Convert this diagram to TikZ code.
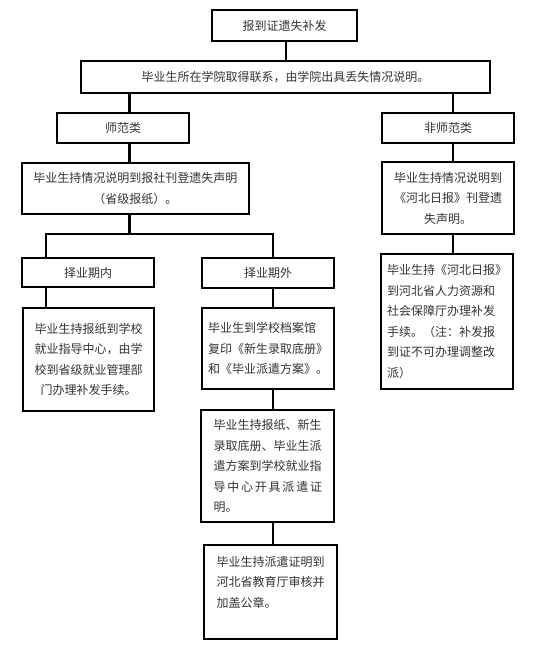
\documentclass[tikz,border=0pt]{standalone}
\usepackage{fontspec}
\setmainfont{Noto Sans CJK SC}
\definecolor{ink}{HTML}{333333}

\begin{document}
\begin{tikzpicture}[x=1pt, y=-1pt,
  every node/.style={font=\fontsize{12}{20.5}\selectfont, text=ink},
  box/.style={draw, line width=1.6pt, inner sep=0pt, align=center},
  leftbox/.style={box, align=left},
  link/.style={line width=2.8pt}]
  \useasboundingbox (0,0) rectangle (539,657);

  % Top
  \node[box, minimum width=145pt, minimum height=31pt] (lost) at (284.5,25.5) {报到证遗失补发};
  \node[box, minimum width=409pt, minimum height=32pt] (college) at (285.5,77)
    {毕业生所在学院取得联系，由学院出具丢失情况说明。};

  % Two kinds
  \node[box, minimum width=132pt, minimum height=30pt] (normal) at (123,128) {师范类};
  \node[box, minimum width=132pt, minimum height=30pt] (other) at (448,128) {非师范类};

  \node[box, minimum width=227pt, minimum height=51pt] (notice) at (135.5,188.5)
    {毕业生持情况说明到报社刊登遗失声明\\（省级报纸）。};
  \node[box, minimum width=132pt, minimum height=72pt] (hbnotice) at (448,198)
    {毕业生持情况说明到\\《河北日报》刊登遗\\失声明。};
  \node[leftbox, minimum width=132pt, minimum height=135pt] (hbdept) at (447,321.5)
    {毕业生持《河北日报》\\到河北省人力资源和\\社会保障厅办理补发\\手续。（注：补发报\\到证不可办理调整改\\派）};

  % Within / after the choice period
  \node[box, minimum width=132pt, minimum height=29pt] (inside) at (88,272.5) {择业期内};
  \node[box, minimum width=132pt, minimum height=30pt] (outside) at (268,273) {择业期外};

  \node[box, minimum width=131pt, minimum height=103pt] (reissue) at (88.5,359.5)
    {毕业生持报纸到学校\\就业指导中心，由学\\校到省级就业管理部\\门办理补发手续。};
  \node[leftbox, minimum width=132pt, minimum height=81pt] (archive) at (268,348.5)
    {毕业生到学校档案馆\\复印《新生录取底册》\\和《毕业派遣方案》。};
  \node[leftbox, minimum width=133pt, minimum height=112pt] (dispatch) at (267.5,466)
    {毕业生持报纸、新生\\录取底册、毕业生派\\遣方案到学校就业指\\\makebox[108pt][s]{导 中 心 开 具 派 遣 证}\\明。};
  \node[leftbox, minimum width=133pt, minimum height=94pt] (stamp) at (270.5,592)
    {毕业生持派遣证明到\\河北省教育厅审核并\\加盖公章。\\~};

  % Lanes
  \coordinate (laneA) at (286,0);
  \coordinate (laneL) at (129.5,0);
  \coordinate (laneR) at (453,0);
  \coordinate (laneIn) at (46,0);
  \coordinate (laneOut) at (273,0);
  \coordinate (bus) at (0,234);

  \draw[link] (lost.south -| laneA) -- (college.north -| laneA);
  \draw[link] (college.south -| laneL) -- (normal.north -| laneL);
  \draw[link] (normal.south -| laneL) -- (notice.north -| laneL);
  \draw[link] (notice.south -| laneL) -- (bus -| laneL);
  \draw[link] (inside.north -| laneIn) -- (bus -| laneIn) -- (bus -| laneOut) -- (outside.north -| laneOut);
  \draw[link] (inside.south -| laneIn) -- (reissue.north -| laneIn);
  \draw[link] (outside.south -| laneOut) -- (archive.north -| laneOut);
  \draw[link] (archive.south -| laneOut) -- (dispatch.north -| laneOut);
  \draw[link] (dispatch.south -| laneOut) -- (stamp.north -| laneOut);

  \draw[link] (college.south -| laneR) -- (other.north -| laneR);
  \draw[link] (other.south -| laneR) -- (hbnotice.north -| laneR);
  \draw[link] (hbnotice.south -| laneR) -- (hbdept.north -| laneR);
\end{tikzpicture}
\end{document}
